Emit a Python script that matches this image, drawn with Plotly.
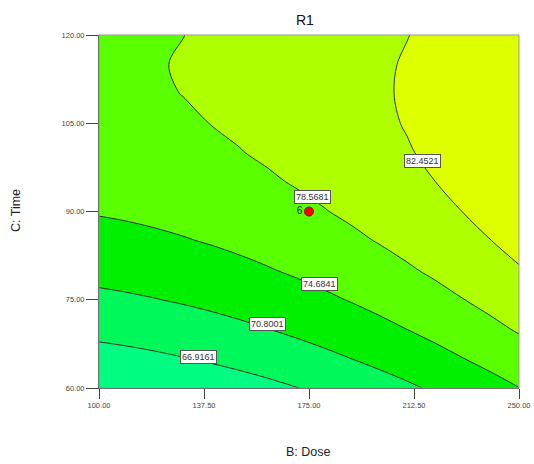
import plotly.graph_objects as go

# ---- data ----
dose = [100, 110, 120, 130, 140, 150, 160, 170, 180, 190, 200, 210, 220, 230, 240, 250]   # B: Dose
time = [60, 65, 70, 75, 80, 85, 90, 95, 100, 105, 110, 115, 120]                          # C: Time
r1 = [
    [62.99, 63.36, 63.79, 64.27, 64.82, 65.42, 66.08, 66.80, 67.57, 68.41, 69.30, 70.25, 71.26, 72.33, 73.45, 74.63],
    [65.58, 65.93, 66.33, 66.80, 67.32, 67.90, 68.54, 69.23, 69.99, 70.80, 71.67, 72.60, 73.58, 74.63, 75.73, 76.89],
    [67.93, 68.25, 68.64, 69.08, 69.58, 70.14, 70.75, 71.43, 72.16, 72.95, 73.80, 74.70, 75.66, 76.69, 77.77, 78.90],
    [70.03, 70.34, 70.70, 71.12, 71.60, 72.13, 72.73, 73.38, 74.09, 74.85, 75.68, 76.56, 77.50, 78.50, 79.56, 80.67],
    [71.90, 72.18, 72.52, 72.92, 73.37, 73.89, 74.46, 75.09, 75.77, 76.52, 77.32, 78.18, 79.10, 80.08, 81.11, 82.20],
    [73.52, 73.78, 74.10, 74.47, 74.90, 75.39, 75.94, 76.55, 77.21, 77.94, 78.72, 79.56, 80.45, 81.41, 82.42, 83.49],
    [74.90, 75.13, 75.43, 75.78, 76.19, 76.66, 77.19, 77.77, 78.41, 79.11, 79.87, 80.69, 81.56, 82.49, 83.48, 84.53],
    [76.03, 76.25, 76.52, 76.85, 77.24, 77.68, 78.19, 78.75, 79.37, 80.05, 80.78, 81.58, 82.43, 83.34, 84.31, 85.33],
    [76.92, 77.12, 77.37, 77.67, 78.04, 78.46, 78.95, 79.49, 80.08, 80.74, 81.45, 82.22, 83.05, 83.94, 84.88, 85.89],
    [77.57, 77.74, 77.97, 78.26, 78.60, 79.00, 79.46, 79.98, 80.55, 81.19, 81.88, 82.63, 83.43, 84.30, 85.22, 86.20],
    [77.98, 78.13, 78.33, 78.60, 78.92, 79.30, 79.73, 80.23, 80.78, 81.39, 82.06, 82.79, 83.57, 84.41, 85.31, 86.27],
    [78.14, 78.27, 78.45, 78.69, 78.99, 79.35, 79.76, 80.24, 80.77, 81.35, 82.00, 82.70, 83.47, 84.29, 85.17, 86.10],
    [78.06, 78.17, 78.33, 78.55, 78.82, 79.16, 79.55, 80.00, 80.51, 81.07, 81.70, 82.38, 83.12, 83.92, 84.77, 85.69],
]
levels = [66.9161, 70.8001, 74.6841, 78.5681, 82.4521]
design_dose = [175]
design_time = [90]
design_count = ["6"]
x_ticks = [100, 137.5, 175, 212.5, 250]
y_ticks = [60, 75, 90, 105, 120]

# label placement (data coordinates)
label_pos = [(135.4, 65.35), (160.0, 70.9), (178.75, 77.7), (176.25, 92.55), (215.4, 98.6)]

band_colors = ['#00FC80', '#00F85A', '#00F000', '#5AFF00', '#AEFF00', '#DDFF00']
n = len(band_colors) - 1
colorscale = [[i / n, c] for i, c in enumerate(band_colors)]

PL, PW, PT, PH = 99, 420, 35, 353   # plot box in pixels (for paper-coordinate text)
def px(x): return (x - PL) / PW
def py(y): return (PT + PH - y) / PH

fig = go.Figure()
fig.add_trace(go.Contour(
    x=dose, y=time, z=r1, autocontour=False,
    contours=dict(start=levels[0], end=levels[-1], size=levels[1] - levels[0], coloring='fill'),
    line=dict(color='#2b3322', width=1, smoothing=1),
    colorscale=colorscale, showscale=False, hoverinfo='skip'))
fig.add_trace(go.Scatter(
    x=design_dose, y=design_time, mode='markers+text', text=design_count,
    textposition='middle left', textfont=dict(size=10, color='#222', family='Liberation Sans'),
    marker=dict(size=9, color='#FF0000', line=dict(color='#990000', width=1)),
    hoverinfo='skip'))

annotations = []
for lv, (lx, ly) in zip(levels, label_pos):
    annotations.append(dict(x=lx, y=ly, xref='x', yref='y', text=f"{lv:.4f}", showarrow=False,
                            bgcolor='white', bordercolor='#555555', borderwidth=1, borderpad=1,
                            font=dict(size=9, color='#333', family='Liberation Sans')))
annotations.append(dict(x=px(305), y=py(20), xref='paper', yref='paper', text='R1',
                        xanchor='center', yanchor='middle', showarrow=False,
                        font=dict(size=14, color='#111', family='Liberation Sans')))
annotations.append(dict(x=px(308), y=py(452), xref='paper', yref='paper', text='B: Dose',
                        xanchor='center', yanchor='middle', showarrow=False,
                        font=dict(size=12.5, color='#222', family='Liberation Sans')))
annotations.append(dict(x=px(16), y=py(211), xref='paper', yref='paper', text='C: Time',
                        xanchor='center', yanchor='middle', textangle=-90, showarrow=False,
                        font=dict(size=12.5, color='#222', family='Liberation Sans')))

fig.update_layout(
    width=534, height=464, margin=dict(l=99, r=15, t=35, b=76, autoexpand=False), showlegend=False,
    plot_bgcolor='white', paper_bgcolor='white', annotations=annotations,
    shapes=[dict(type='rect', xref='paper', yref='paper', x0=0, y0=0, x1=1, y1=1,
                 line=dict(color='#999999', width=1), layer='above')])
fig.update_xaxes(range=[100, 250], tickvals=x_ticks, ticktext=[f"{v:.2f}" for v in x_ticks],
                 ticks='outside', ticklen=10, tickcolor='#444', showline=True, linecolor='#444',
                 showgrid=False, zeroline=False, automargin=False, ticklabeloverflow='allow',
                 tickfont=dict(size=7.5, color='#444', family='Liberation Sans'))
fig.update_yaxes(range=[60, 120], tickvals=y_ticks, ticktext=[f"{v:.2f}" for v in y_ticks],
                 ticks='outside', ticklen=12, tickcolor='#444', showline=True, linecolor='#444',
                 showgrid=False, zeroline=False, automargin=False, ticklabeloverflow='allow',
                 tickfont=dict(size=7.5, color='#444', family='Liberation Sans'))
fig.write_html("out.html")
